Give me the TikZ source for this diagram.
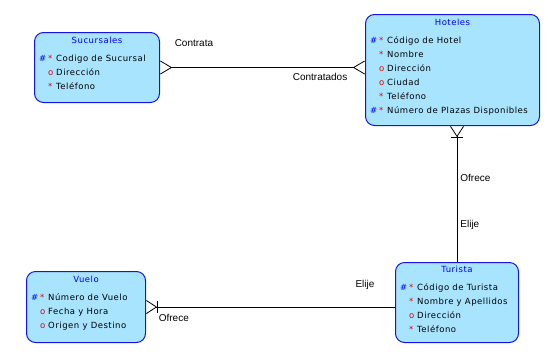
\documentclass[tikz,border=0pt]{standalone}
\usepackage{fontspec}
\usetikzlibrary{arrows.meta,positioning}
\setmainfont{Liberation Sans}
\newfontfamily\attrfont[LetterSpace=6]{DejaVu Sans}
\definecolor{entfill}{RGB}{168,228,254}
\definecolor{entline}{RGB}{20,20,230}
\definecolor{keyblue}{RGB}{0,0,255}
\definecolor{markred}{RGB}{230,0,0}

% attribute lines: identifier, mandatory, optional
\newcommand\idattr[1]{\makebox[9pt][l]{\textcolor{keyblue}{\#}}\makebox[8pt][l]{\textcolor{markred}{*}}#1}
\newcommand\reqattr[1]{\hspace*{9pt}\makebox[8pt][l]{\textcolor{markred}{*}}#1}
\newcommand\optattr[1]{\hspace*{9pt}\makebox[8pt][l]{\textcolor{markred}{o}}#1}

\begin{document}
\begin{tikzpicture}[
  x=1pt, y=-1pt,
  font=\fontsize{10}{12}\selectfont,
  entity/.style={draw=entline, fill=entfill, line width=1pt, rounded corners=9pt,
                 anchor=north west, inner sep=0pt},
  etitle/.style={font=\attrfont\fontsize{8.5}{10}\selectfont, text=keyblue, inner sep=0pt},
  attrs/.style={font=\attrfont\fontsize{8.5}{14}\selectfont, align=left,
                anchor=base west, inner sep=0pt},
  rel/.style={line width=0.8pt},
  lbl/.style={inner sep=0pt, anchor=west},
  crow/.tip={Straight Barb[reversed, length=11pt, width=13pt, line width=0.8pt]},
  onecrow/.tip={Bar[width=12pt, line width=0.8pt] Straight Barb[reversed, length=10pt, width=13pt, line width=0.8pt]}]
  \useasboundingbox (0,0) rectangle (548,354);

  % entities (attribute block sits on the baseline of its last line)
  \node[entity, minimum width=125pt, minimum height=70pt] (suc) at (34,32) {};
  \node[etitle] (suc-t) at ([yshift=-8pt]suc.north) {Sucursales};
  \node[attrs] (suc-a) at ([xshift=5pt, yshift=-57pt]suc.north west)
    {\idattr{Codigo de Sucursal}\\ \optattr{Dirección}\\ \reqattr{Teléfono}};

  \node[entity, minimum width=174pt, minimum height=111pt] (hot) at (365,14) {};
  \node[etitle] (hot-t) at ([yshift=-8pt]hot.north) {Hoteles};
  \node[attrs] (hot-a) at ([xshift=5pt, yshift=-99pt]hot.north west)
    {\idattr{Código de Hotel}\\ \reqattr{Nombre}\\ \optattr{Dirección}\\
     \optattr{Ciudad}\\ \reqattr{Teléfono}\\ \idattr{Número de Plazas Disponibles}};

  \node[entity, minimum width=119pt, minimum height=71pt] (vue) at (26,271) {};
  \node[etitle] (vue-t) at ([yshift=-8pt]vue.north) {Vuelo};
  \node[attrs] (vue-a) at ([xshift=5pt, yshift=-57pt]vue.north west)
    {\idattr{Número de Vuelo}\\ \optattr{Fecha y Hora}\\ \optattr{Origen y Destino}};

  \node[entity, minimum width=123pt, minimum height=80pt] (tur) at (395,262) {};
  \node[etitle] (tur-t) at ([yshift=-7pt]tur.north) {Turista};
  \node[attrs] (tur-a) at ([xshift=5pt, yshift=-70pt]tur.north west)
    {\idattr{Código de Turista}\\ \reqattr{Nombre y Apellidos}\\
     \optattr{Dirección}\\ \reqattr{Teléfono}};

  % relationships
  \draw[rel, {crow}-{crow}] (suc.east) -- (suc.east -| hot.west)
    node[lbl, pos=0.07, yshift=24pt] (l-contrata) {Contrata}
    node[lbl, pos=0.646, yshift=-9pt] (l-contratados) {Contratados};
  \draw[rel, -{onecrow}] (tur.north) -- (tur.north |- hot.south)
    node[lbl, pos=0.615, xshift=3pt] (l-ofrece1) {Ofrece}
    node[lbl, pos=0.27, xshift=3pt] (l-elije1) {Elije};
  \draw[rel, -{onecrow}] (tur.west |- vue.east) -- (vue.east)
    node[lbl, pos=0.16, yshift=22pt] (l-elije2) {Elije}
    node[lbl, pos=0.95, yshift=-11pt] (l-ofrece2) {Ofrece};
\end{tikzpicture}
\end{document}
